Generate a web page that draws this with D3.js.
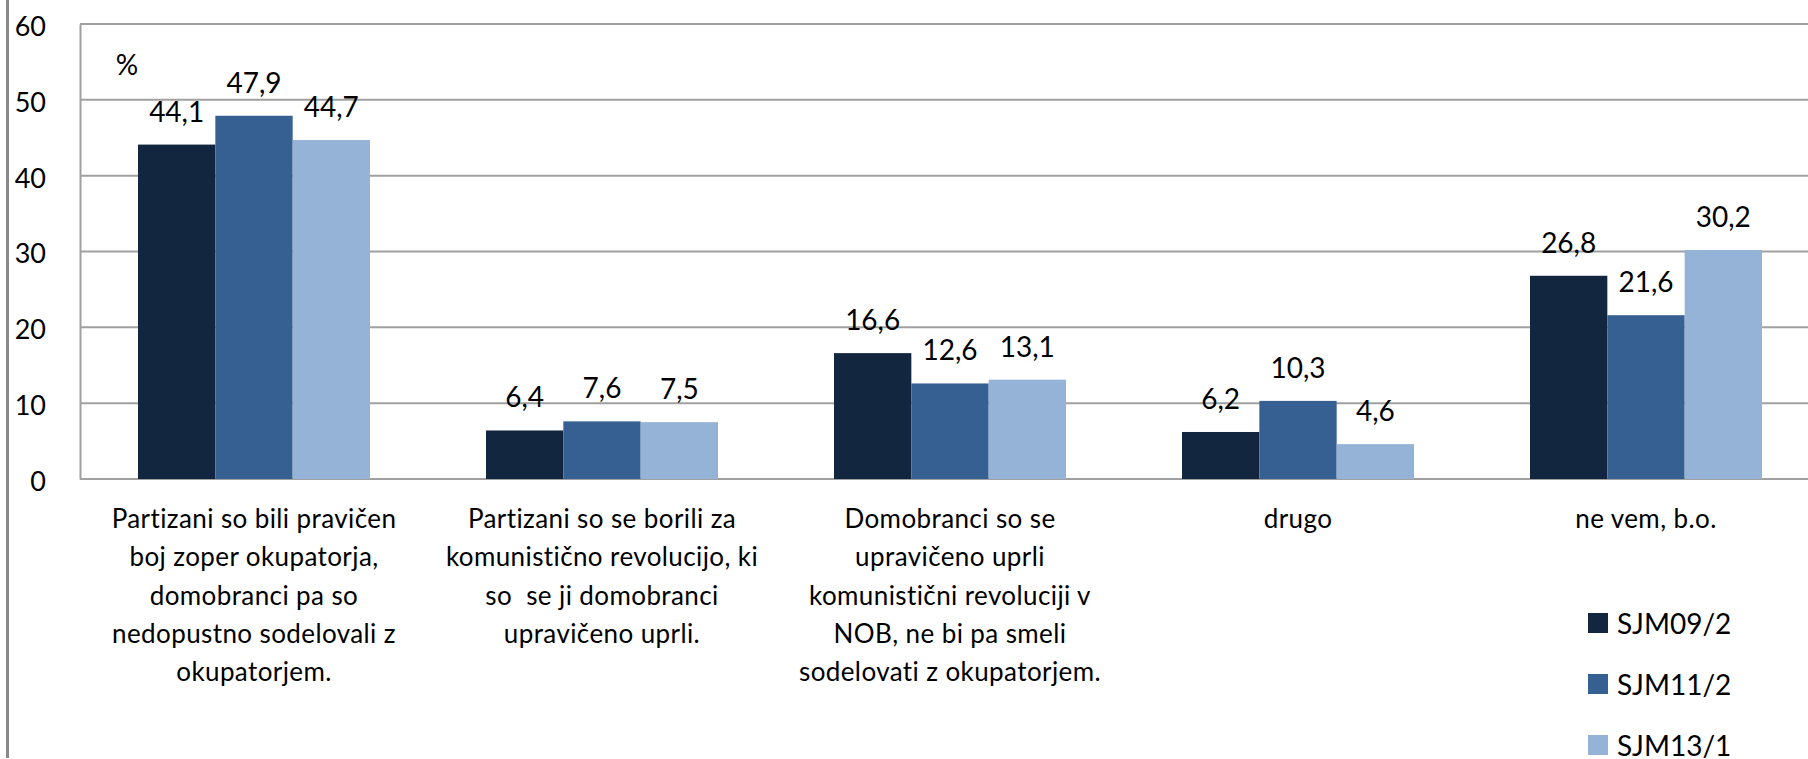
<!DOCTYPE html>
<html>
<head>
<meta charset="utf-8">
<script src="https://cdn.jsdelivr.net/npm/d3@7/dist/d3.min.js"></script>
<style>
  html, body { margin: 0; padding: 0; background: #fff; }
  svg { display: block; }
  text { font-family: Lato, "Open Sans", sans-serif; fill: #000; }
</style>
</head>
<body>
<svg id="chart" width="1808" height="759"></svg>
<script>
// Survey answers (%), three waves per answer category
const categories = [
  ["Partizani so bili pravičen", "boj zoper okupatorja,", "domobranci pa so", "nedopustno sodelovali z", "okupatorjem."],
  ["Partizani so se borili za", "komunistično revolucijo, ki", "so  se ji domobranci", "upravičeno uprli."],
  ["Domobranci so se", "upravičeno uprli", "komunistični revoluciji v", "NOB, ne bi pa smeli", "sodelovati z okupatorjem."],
  ["drugo"],
  ["ne vem, b.o."]
];
const seriesNames = ["SJM09/2", "SJM11/2", "SJM13/1"];
const sjm09 = [44.1, 6.4, 16.6, 6.2, 26.8];
const sjm11 = [47.9, 7.6, 12.6, 10.3, 21.6];
const sjm13 = [44.7, 7.5, 13.1, 4.6, 30.2];
const yTicks = [0, 10, 20, 30, 40, 50, 60];

const seriesValues = [sjm09, sjm11, sjm13];
const colors = ["#132640", "#366092", "#95b3d7"];
const fmt = v => v.toFixed(1).replace(".", ",");

const svg = d3.select("#chart");

const plot = { left: 80, right: 1820, top: 24, bottom: 479 };

const x0 = d3.scaleBand()
  .domain(d3.range(categories.length))
  .range([plot.left, plot.right])
  .padding(0);

const x1 = d3.scaleBand()
  .domain(d3.range(seriesNames.length))
  .range([0, x0.bandwidth()])
  .paddingInner(0)
  .paddingOuter(0.75);

const y = d3.scaleLinear().domain([0, 60]).range([plot.bottom, plot.top]);

// outer frame line on the left
svg.append("line")
  .attr("x1", 7.5).attr("x2", 7.5)
  .attr("y1", 0).attr("y2", 758)
  .attr("stroke", "#8a8a8a").attr("stroke-width", 3);

// y axis: domain line and tick labels
const yAxis = d3.axisLeft(y).tickValues(yTicks).tickSize(0).tickPadding(0).tickFormat(d3.format("d"));
const gy = svg.append("g").attr("transform", `translate(${plot.left},0)`).call(yAxis);
gy.select(".domain")
  .attr("stroke", "#a0a0a0").attr("stroke-width", 2);
gy.selectAll(".tick text")
  .attr("x", 46 - plot.left)
  .attr("dy", "0.42em")
  .attr("text-anchor", "end")
  .style("font-size", "27px")
  .style("font-family", "Lato, sans-serif")
  .attr("fill", "#000");

// horizontal gridlines
svg.append("g")
  .selectAll("line")
  .data(yTicks)
  .join("line")
  .attr("x1", plot.left).attr("x2", 1808)
  .attr("y1", d => y(d)).attr("y2", d => y(d))
  .attr("stroke", "#a0a0a0").attr("stroke-width", 2);

// bars
const groups = svg.append("g")
  .selectAll("g")
  .data(categories.map((c, i) => i))
  .join("g")
  .attr("transform", i => `translate(${x0(i)},0)`);

groups.selectAll("rect")
  .data(i => seriesValues.map((vals, s) => ({ s, v: vals[i] })))
  .join("rect")
  .attr("x", d => x1(d.s))
  .attr("width", x1.bandwidth())
  .attr("y", d => y(d.v))
  .attr("height", d => y(0) - y(d.v))
  .attr("fill", d => colors[d.s]);

// value labels
groups.selectAll("text.val")
  .data(i => seriesValues.map((vals, s) => ({ s, v: vals[i] })))
  .join("text")
  .attr("class", "val")
  .attr("x", d => x1(d.s) + x1.bandwidth() / 2)
  .attr("y", d => y(d.v) - 23)
  .attr("text-anchor", "middle")
  .style("font-size", "28px")
  .text(d => fmt(d.v));

// category labels
groups.append("text")
  .attr("text-anchor", "middle")
  .style("font-size", "26px")
  .style("letter-spacing", "0.4px")
  .style("white-space", "pre")
  .selectAll("tspan")
  .data(i => categories[i])
  .join("tspan")
  .attr("x", x0.bandwidth() / 2)
  .attr("y", (d, j) => 528 + j * 38.3)
  .text(d => d);

// percent sign
svg.append("text")
  .attr("x", 127).attr("y", 75)
  .attr("text-anchor", "middle")
  .style("font-size", "28px")
  .text("%");

// legend
const legend = svg.append("g")
  .selectAll("g")
  .data(seriesNames)
  .join("g")
  .attr("transform", (d, i) => `translate(1588,${613 + i * 61})`);

legend.append("rect")
  .attr("width", 20).attr("height", 20)
  .attr("fill", (d, i) => colors[i]);

legend.append("text")
  .attr("x", 29).attr("y", 21)
  .style("font-size", "28px")
  .text(d => d);
</script>
</body>
</html>
